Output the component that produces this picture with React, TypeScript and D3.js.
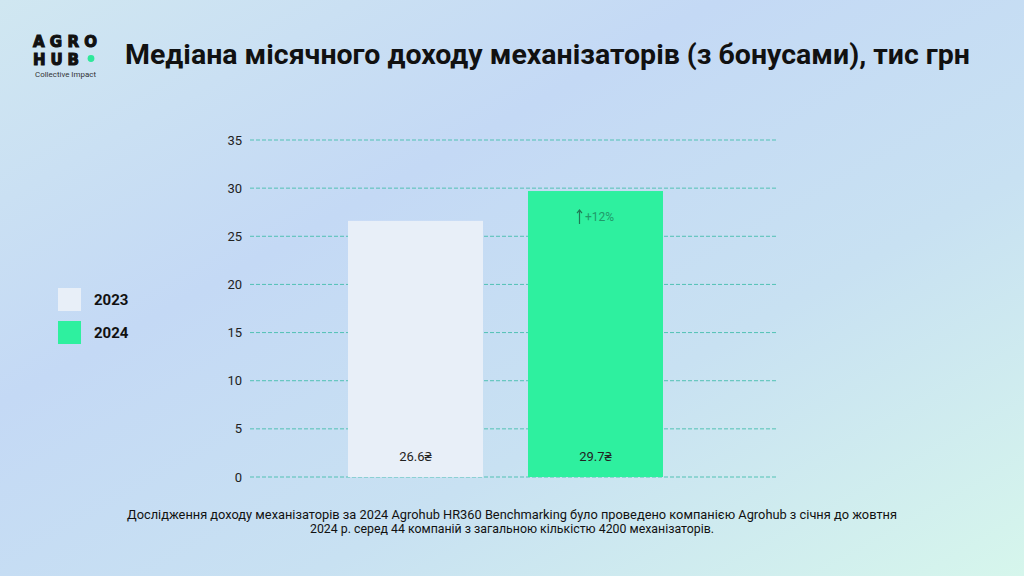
import React from "react";
import * as d3 from "d3";

// Median monthly income of machine operators (with bonuses), thousand UAH
const years = ["2023", "2024"];
const medianIncome = [26.6, 29.7];
const barColors = ["#e8eff8", "#2ef09f"];
const yTicks = [0, 5, 10, 15, 20, 25, 30, 35];
const growthLabel = "+12%";

const W = 1024;
const H = 576;

export default function App() {
  const y = d3.scaleLinear().domain([0, 35]).range([477, 140]);
  const x = d3.scaleBand<string>().domain(years).range([348, 663]).paddingInner(0.25);
  const bw = x.bandwidth();

  return (
    <div style={{ position: "fixed", left: 0, top: 0 }}>
      <svg width={W} height={H} style={{ display: "block" }} fontFamily="Roboto, 'Noto Sans', sans-serif">
        <defs>
          <linearGradient id="bg" x1="0" y1="0" x2="1" y2="1">
            <stop offset="0%" stopColor="#d0e7f1" />
            <stop offset="35%" stopColor="#c4d9f5" />
            <stop offset="65%" stopColor="#c8e1f2" />
            <stop offset="100%" stopColor="#d6f6ec" />
          </linearGradient>
        </defs>
        <rect width={W} height={H} fill="url(#bg)" />

        {/* logo */}
        <g fill="#111" stroke="#111" strokeWidth={1.1} fontFamily="'DejaVu Sans', sans-serif">
          <text x={33} y={46.5} fontSize={15} fontWeight={700} textLength={64} lengthAdjust="spacing">AGRO</text>
          <text x={33} y={64.5} fontSize={15} fontWeight={700} textLength={46} lengthAdjust="spacing">HUB</text>
        </g>
        <circle cx={91} cy={58.5} r={3.4} fill="#2ee89a" />
        <text x={35} y={77} fontSize={6.5} fontWeight={400} fill="#333" textLength={61} lengthAdjust="spacingAndGlyphs">
          Collective Impact
        </text>

        {/* title */}
        <text
          x={125}
          y={64}
          fontSize={27}
          fontWeight={700}
          fill="#111"
          textLength={845}
          lengthAdjust="spacingAndGlyphs"
        >
          Медіана місячного доходу механізаторів (з бонусами), тис грн
        </text>

        {/* gridlines and y ticks */}
        {yTicks.map((t) => (
          <g key={t}>
            <line
              x1={250}
              x2={776}
              y1={y(t)}
              y2={y(t)}
              stroke="#47bfae"
              strokeWidth={1}
              strokeDasharray="4 2"
              opacity={0.9}
            />
            <text x={242} y={y(t) + 4.5} textAnchor="end" fontSize={13} fill="#222">
              {t}
            </text>
          </g>
        ))}

        {/* bars */}
        {years.map((yr, i) => (
          <g key={yr}>
            <rect
              x={x(yr)}
              y={y(medianIncome[i])}
              width={bw}
              height={y(0) - y(medianIncome[i])}
              fill={barColors[i]}
            />
            <text x={(x(yr) as number) + bw / 2} y={461} textAnchor="middle" fontSize={13} fill="#222">
              {medianIncome[i].toFixed(1)}₴
            </text>
          </g>
        ))}

        {/* growth annotation */}
        <g fill="#1f9a69">
          <text
            x={(x("2024") as number) + bw / 2 + 4}
            y={y(medianIncome[1]) + 30}
            textAnchor="middle"
            fontSize={12}
          >
            {growthLabel}
          </text>
          <path
            d={`M${(x("2024") as number) + bw / 2 - 16},${y(medianIncome[1]) + 33} v-14 m-2.5,3 l2.5,-3 l2.5,3`}
            stroke="#1f7a55"
            strokeWidth={1.2}
            fill="none"
          />
        </g>

        {/* legend */}
        {years.map((yr, i) => (
          <g key={"lg" + yr}>
            <rect x={58} y={288 + i * 33} width={23} height={23} fill={barColors[i]} />
            <text x={94} y={305 + i * 33} fontSize={15} fontWeight={700} fill="#111">
              {yr}
            </text>
          </g>
        ))}

        {/* footnote */}
        <g fontSize={13} fill="#111" textAnchor="middle">
          <text x={512} y={519} textLength={770} lengthAdjust="spacingAndGlyphs">
            Дослідження доходу механізаторів за 2024 Agrohub HR360 Benchmarking було проведено компанією Agrohub з січня до жовтня
          </text>
          <text x={512} y={533} textLength={404} lengthAdjust="spacingAndGlyphs">
            2024 р. серед 44 компаній з загальною кількістю 4200 механізаторів.
          </text>
        </g>
      </svg>
    </div>
  );
}
